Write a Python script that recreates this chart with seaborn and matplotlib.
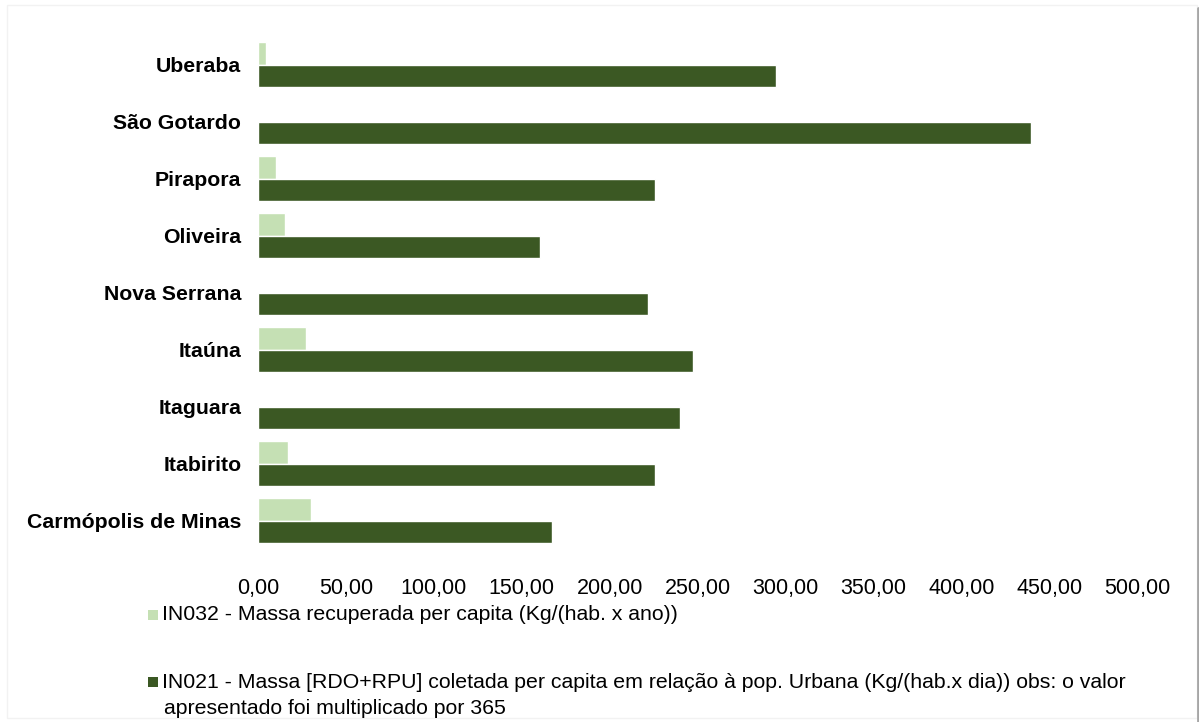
import matplotlib
matplotlib.use("Agg")
import matplotlib.pyplot as plt
from matplotlib.patches import Rectangle
from matplotlib.lines import Line2D
from matplotlib.ticker import FuncFormatter
import seaborn as sns
import pandas as pd

# Municipalities (top to bottom)
municipios = ["Uberaba", "São Gotardo", "Pirapora", "Oliveira", "Nova Serrana",
              "Itaúna", "Itaguara", "Itabirito", "Carmópolis de Minas"]

# IN032 - mass recovered per capita (kg/(hab. x ano))
in032 = [4.5, 0.0, 10.2, 15.5, 0.0, 27.2, 0.0, 16.9, 30.1]
# IN021 - mass collected per capita (kg/(hab. x dia)) x 365
in021 = [294.6, 439.7, 225.6, 160.4, 222.0, 247.3, 240.0, 225.6, 167.4]

serie_in032 = "IN032 - Massa recuperada per capita (Kg/(hab. x ano))"
serie_in021 = ("IN021 - Massa [RDO+RPU] coletada per capita em relação à pop. Urbana "
               "(Kg/(hab.x dia)) obs: o valor")
serie_in021_l2 = "apresentado foi multiplicado por 365"

xticks = [0, 50, 100, 150, 200, 250, 300, 350, 400, 450, 500]

cor_clara = "#c5e0b4"
cor_escura = "#3b5823"

df = pd.DataFrame({
    "Município": municipios * 2,
    "Valor": in032 + in021,
    "Indicador": [serie_in032] * len(municipios) + [serie_in021] * len(municipios),
})

sns.set_theme(style="white")
plt.rcParams["font.family"] = ["Liberation Sans", "DejaVu Sans"]

fig = plt.figure(figsize=(11.99, 7.22), dpi=100)
ax = fig.add_axes([0.2152, 0.2396, 0.9483 - 0.2152, 0.9501 - 0.2396])

sns.barplot(data=df, y="Município", x="Valor", hue="Indicador", orient="h",
            order=municipios, hue_order=[serie_in032, serie_in021],
            palette=[cor_clara, cor_escura], width=0.8, saturation=1,
            ax=ax, legend=False)

ax.set_xlim(0, 500)
ax.set_xticks(xticks)
ax.xaxis.set_major_formatter(FuncFormatter(lambda v, p: f"{v:.2f}".replace(".", ",")))
ax.set_xlabel("")
ax.set_ylabel("")
for s in ax.spines.values():
    s.set_visible(False)
ax.tick_params(axis="x", length=0, pad=21, labelsize=15.5, labelcolor="#000000")
ax.tick_params(axis="y", length=0, pad=12, labelsize=15.3, labelcolor="#000000")
for lbl in ax.get_yticklabels():
    lbl.set_fontweight("bold")
ax.grid(False)

# Legend drawn as separate rows below the plot
W, H = 1199, 722
def fx(px):
    return px / W
def fy(py):
    return 1 - py / H

fig.patches.append(Rectangle((fx(148), fy(620)), fx(10), 10 / H, transform=fig.transFigure,
                             facecolor=cor_clara, edgecolor="none"))
fig.text(fx(162), fy(615), serie_in032, fontsize=15.3, va="center", ha="left", color="#000000")

fig.patches.append(Rectangle((fx(148), fy(687)), fx(10), 10 / H, transform=fig.transFigure,
                             facecolor=cor_escura, edgecolor="none"))
fig.text(fx(162), fy(682), serie_in021, fontsize=15.3, va="center", ha="left", color="#000000")
fig.text(fx(164), fy(708), serie_in021_l2, fontsize=15.3, va="center", ha="left", color="#000000")

# Chart frame
fig.patches.append(Rectangle((fx(7), fy(718)), fx(1190), (718 - 5) / H, transform=fig.transFigure,
                             facecolor="none", edgecolor="#f2f2f2", linewidth=1))
fig.lines.append(Line2D([fx(1197.5), fx(1197.5)], [fy(8), 0], transform=fig.transFigure,
                        color="#a6a6a6", linewidth=2))

fig.savefig("out.png", dpi=100, facecolor="white")
